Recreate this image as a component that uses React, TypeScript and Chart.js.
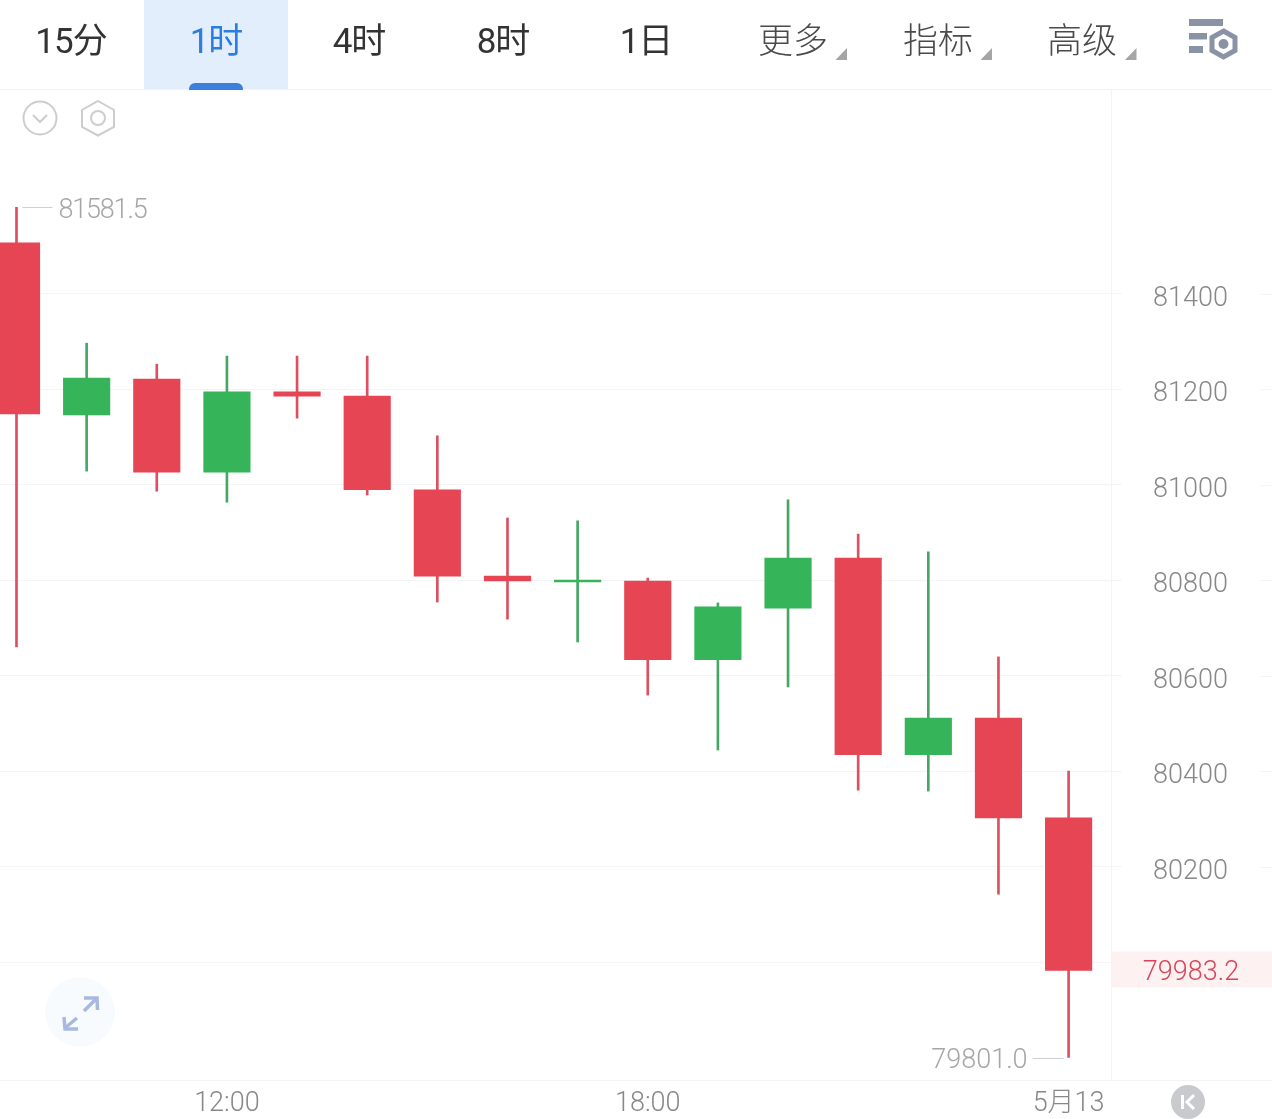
import React, { useEffect, useRef } from "react";
import { Chart, registerables } from "chart.js";

Chart.register(...registerables);

const candleIndex = [0, 1, 2, 3, 4, 5, 6, 7, 8, 9, 10, 11, 12, 13, 14, 15];
const opens = [81507, 81147, 81222, 81027, 81195, 81186, 80990, 80809, 80797, 80799, 80634, 80742, 80847, 80435, 80512, 80303];
const closes = [81149, 81224, 81027, 81195, 81186, 80990, 80809, 80799, 80801, 80634, 80745, 80847, 80435, 80512, 80303, 79983.2];
const highs = [81581.5, 81297, 81253, 81270, 81270, 81270, 81103, 80931, 80925, 80805, 80753, 80969, 80897, 80860, 80640, 80401];
const lows = [80661, 81029, 80987, 80964, 81140, 80979, 80755, 80719, 80671, 80560, 80445, 80577, 80361, 80359, 80143, 79801];

const yTicks = [81400, 81200, 81000, 80800, 80600, 80400, 80200, 80000];
const yHiddenLabels = [80000];
const xTickIndex = [3, 9, 15];
const xTickLabels = ["12:00", "18:00", "5月13"];

const tabs = ["15分", "1时", "4时", "8时", "1日", "更多", "指标", "高级"];
const tabCenters = [71, 216, 359, 503, 646, 793, 938, 1082];
const tabCorners = [835.5, 980.5, 1125];

const RED = "#e64553";
const GREEN = "#36b459";
const RED_WICK = "#dc5060";
const GREEN_WICK = "#46a765";
const GRID = "#f4f4f4";
const FONT = "Roboto, 'Noto Sans CJK SC', sans-serif";

const overlayPlugin = {
  id: "overlay",
  afterDatasetsDraw(chart: any) {
    const { ctx, scales } = chart;
    const y = scales.y;
    const x = scales.x;
    ctx.save();
    ctx.strokeStyle = GRID;
    ctx.lineWidth = 1;
    ctx.beginPath();
    ctx.moveTo(0, 1080.5);
    ctx.lineTo(1272, 1080.5);
    ctx.moveTo(0, 89.5);
    ctx.lineTo(1272, 89.5);
    yTicks.forEach((t) => {
      const p = Math.round(y.getPixelForValue(t)) + 0.5;
      ctx.moveTo(1261, p);
      ctx.lineTo(1272, p);
    });
    ctx.stroke();

    // current price tag
    const last = closes[closes.length - 1];
    const py = y.getPixelForValue(last);
    ctx.fillStyle = "#fdf1f1";
    ctx.fillRect(1112, py - 19, 160, 36);
    ctx.fillStyle = "#d8455a";
    ctx.font = `300 27px ${FONT}`;
    ctx.textAlign = "center";
    ctx.textBaseline = "middle";
    ctx.fillText(last.toFixed(1), 1191, py + 3);

    // high and low markers
    const hi = Math.max(...highs);
    const lo = Math.min(...lows);
    const hiIdx = highs.indexOf(hi);
    const loIdx = lows.indexOf(lo);
    const hy = y.getPixelForValue(hi);
    const ly = y.getPixelForValue(lo);
    const hx = x.getPixelForValue(hiIdx);
    const lx = x.getPixelForValue(loIdx);
    ctx.strokeStyle = "#cfcfcf";
    ctx.beginPath();
    ctx.moveTo(hx + 6, Math.round(hy) + 0.5);
    ctx.lineTo(hx + 36, Math.round(hy) + 0.5);
    ctx.moveTo(lx - 36, Math.round(ly) + 0.5);
    ctx.lineTo(lx - 5, Math.round(ly) + 0.5);
    ctx.stroke();
    ctx.fillStyle = "#a6a6a6";
    ctx.textAlign = "right";
    ctx.fillText(lo.toFixed(1), lx - 41, ly + 4);
    ctx.textAlign = "left";
    ctx.letterSpacing = "-1.2px";
    ctx.fillText(hi.toFixed(1), hx + 42, hy + 4);
    ctx.restore();
  },
};

export default function App() {
  const ref = useRef<HTMLCanvasElement>(null);
  useEffect(() => {
    const chart = new Chart(ref.current as HTMLCanvasElement, {
      type: "bar",
      data: {
        datasets: [
          {
            label: "实体",
            data: candleIndex.map((i) => ({ x: i, y: [opens[i], closes[i]] })),
            backgroundColor: candleIndex.map((i) => (closes[i] >= opens[i] ? GREEN : RED)),
            barThickness: 46.5,
            grouped: false,
            order: 1,
          },
          {
            label: "影线",
            data: candleIndex.map((i) => ({ x: i, y: [lows[i], highs[i]] })),
            backgroundColor: candleIndex.map((i) => (closes[i] >= opens[i] ? GREEN_WICK : RED_WICK)),
            barThickness: 2,
            grouped: false,
            order: 2,
          },
        ] as any,
      },
      plugins: [overlayPlugin],
      options: {
        responsive: false,
        animation: false,
        events: [],
        devicePixelRatio: 1,
        layout: { padding: { top: 90, left: 0, right: 0, bottom: 0 } },
        plugins: { legend: { display: false }, tooltip: { enabled: false }, title: { display: false } },
        scales: {
          x: {
            type: "linear",
            offset: false,
            min: -16.5 / 70.14,
            max: (1111 - 16.5) / 70.14,
            afterBuildTicks: (s: any) => {
              s.ticks = xTickIndex.map((value) => ({ value }));
            },
            afterFit: (s: any) => {
              s.height = 39;
              s.paddingLeft = 0;
              s.paddingRight = 0;
            },
            grid: { display: false, drawTicks: false },
            border: { display: false },
            ticks: {
              autoSkip: false,
              maxRotation: 0,
              padding: 8,
              color: "#888888",
              font: { family: FONT, size: 27, weight: 300 },
              callback: (v: any) => xTickLabels[xTickIndex.indexOf(Number(v))] ?? "",
            },
          },
          y: {
            type: "linear",
            position: "right",
            min: 79753.9,
            max: 81827.2,
            afterBuildTicks: (s: any) => {
              s.ticks = yTicks.map((value) => ({ value }));
            },
            afterFit: (s: any) => {
              s.width = 161;
              s.paddingTop = 0;
              s.paddingBottom = 0;
            },
            grid: { color: GRID, lineWidth: 1, tickLength: 11, drawTicks: true },
            border: { display: true, color: GRID, width: 1 },
            ticks: {
              autoSkip: false,
              crossAlign: "center",
              padding: 31,
              labelOffset: 5,
              color: "#888888",
              font: { family: FONT, size: 27, weight: 300 },
              callback: (v: any) => (yHiddenLabels.includes(Number(v)) ? "" : String(v)),
            },
          },
        },
      } as any,
    });
    return () => chart.destroy();
  }, []);

  return (
    <div style={{ position: "absolute", left: 0, top: 0, width: 1272, height: 1119, overflow: "hidden", background: "#fff" }}>
      <canvas ref={ref} width={1272} height={1119} style={{ display: "block", position: "absolute", left: 0, top: 0 }} />
      <div style={{ position: "absolute", left: 144, top: 0, width: 144, height: 89, background: "#e3eefc" }} />
      <div style={{ position: "absolute", left: 189, top: 83, width: 54, height: 7, background: "#3d80dc", borderRadius: "6px 6px 0 0" }} />
      {tabs.map((t, i) => (
        <div
          key={t}
          style={{
            position: "absolute",
            left: tabCenters[i] - 70,
            width: 140,
            top: 20,
            textAlign: "center",
            fontFamily: FONT,
            fontWeight: i >= 5 ? 300 : 400,
            fontSize: 35,
            letterSpacing: i >= 5 ? 0 : -1,
            lineHeight: "44px",
            color: i === 1 ? "#2b7de0" : i >= 5 ? "#4a4a4a" : "#333333",
          }}
        >
          {t}
        </div>
      ))}
      <svg width={1272} height={1119} style={{ position: "absolute", left: 0, top: 0, pointerEvents: "none" }}>
        {tabCorners.map((cx) => (
          <polygon key={cx} points={`${cx},60 ${cx + 11.5},60 ${cx + 11.5},48`} fill="#a5a5a5" />
        ))}
        {/* settings icon */}
        <g fill="#8a93a5">
          <rect x={1189} y={19} width={34} height={7} />
          <rect x={1189} y={33} width={18} height={6.5} />
          <rect x={1189} y={46} width={14} height={7} />
        </g>
        <polygon points="1223.5,31 1235,37.5 1235,50.5 1223.5,57 1212,50.5 1212,37.5" fill="none" stroke="#8a93a5" strokeWidth={5} />
        <circle cx={1223.5} cy={44} r={5} fill="#8a93a5" />
        {/* left tools */}
        <circle cx={40} cy={118} r={16.5} fill="none" stroke="#cdcdcd" strokeWidth={2} />
        <polyline points="33,115 40,122 47,115" fill="none" stroke="#cdcdcd" strokeWidth={2} />
        <polygon points="98,101 114,110 114,127 98,135.5 82,127 82,110" fill="none" stroke="#cdcdcd" strokeWidth={2} />
        <circle cx={98} cy={118} r={7} fill="none" stroke="#cdcdcd" strokeWidth={2} />
        {/* expand button */}
        <circle cx={80} cy={1012} r={35} fill="#f7fbfe" />
        <g fill="none" stroke="#a9b8e0" strokeWidth={3.5}>
          <polyline points="84,998 97,998 97.5,1010" />
          <line x1={96} y1={999} x2={84} y2={1011} />
          <polyline points="64,1017 65,1029 78,1029" />
          <line x1={65} y1={1028} x2={77} y2={1018} />
        </g>
        {/* K button */}
        <circle cx={1188} cy={1102} r={17} fill="#c8cacd" />
        <rect x={1181} y={1095} width={3} height={14} fill="#fff" />
        <polyline points="1194,1095 1187,1102 1194,1109" fill="none" stroke="#fff" strokeWidth={3} />
      </svg>
    </div>
  );
}
